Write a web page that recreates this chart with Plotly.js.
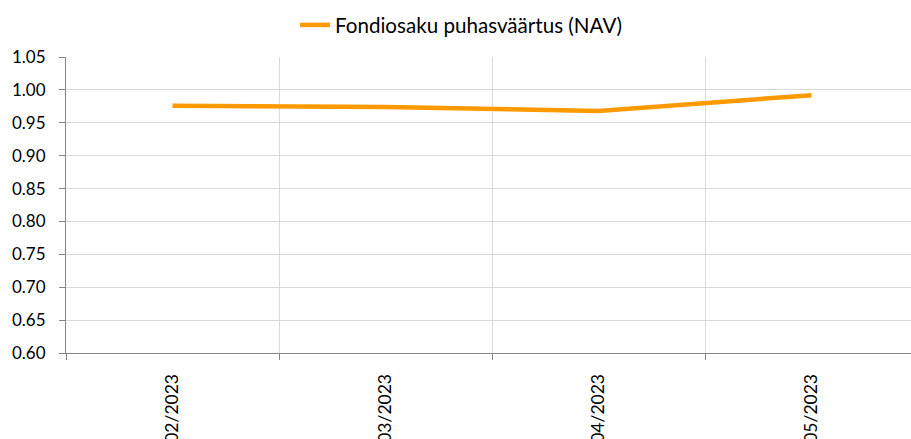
<!DOCTYPE html>
<html>
<head>
<meta charset="utf-8">
<script src="https://cdn.plot.ly/plotly-3.0.1.min.js"></script>
<style>html,body{margin:0;padding:0;background:#fff;}#chart{width:911px;height:439px;}</style>
</head>
<body>
<div id="chart"></div>
<script>
const categories = ["02/2023", "03/2023", "04/2023", "05/2023"];
const navValues = [0.976, 0.974, 0.968, 0.992];
const yTicks = [0.60, 0.65, 0.70, 0.75, 0.80, 0.85, 0.90, 0.95, 1.00, 1.05];
const seriesName = "Fondiosaku puhasväärtus (NAV)";

const trace = {
  x: categories,
  y: navValues,
  type: "scatter",
  mode: "lines",
  name: seriesName,
  line: {color: "#FF9900", width: 4.5}
};

const layout = {
  width: 911,
  height: 439,
  margin: {l: 66, r: 0, t: 57, b: 86},
  paper_bgcolor: "#ffffff",
  plot_bgcolor: "#ffffff",
  font: {family: "Lato, 'Open Sans', sans-serif", size: 17, color: "#000000"},
  showlegend: true,
  legend: {
    orientation: "h",
    x: 0.506, xanchor: "center", xref: "container",
    y: 0.943, yanchor: "middle", yref: "container",
    itemwidth: 30,
    font: {size: 20.6, color: "#000000"}
  },
  xaxis: {
    type: "category",
    range: [-0.5, 3.467],
    tickson: "boundaries",
    showgrid: true,
    gridcolor: "#d9d9d9",
    gridwidth: 1,
    ticks: "outside",
    ticklen: 6,
    tickcolor: "#868686",
    showline: true,
    linecolor: "#868686",
    linewidth: 1,
    tickangle: -90,
    tickfont: {size: 17.5},
    ticklabelstandoff: 13,
    automargin: false,
    zeroline: false
  },
  yaxis: {
    range: [0.60, 1.05],
    tickvals: yTicks,
    ticktext: yTicks.map(v => v.toFixed(2)),
    showgrid: true,
    gridcolor: "#d9d9d9",
    gridwidth: 1,
    ticks: "outside",
    ticklen: 6,
    tickcolor: "#868686",
    showline: true,
    linecolor: "#868686",
    linewidth: 1,
    tickfont: {size: 17},
    ticklabelstandoff: 10,
    automargin: false,
    zeroline: false
  }
};

Plotly.newPlot("chart", [trace], layout, {displayModeBar: false, staticPlot: true});
</script>
</body>
</html>
